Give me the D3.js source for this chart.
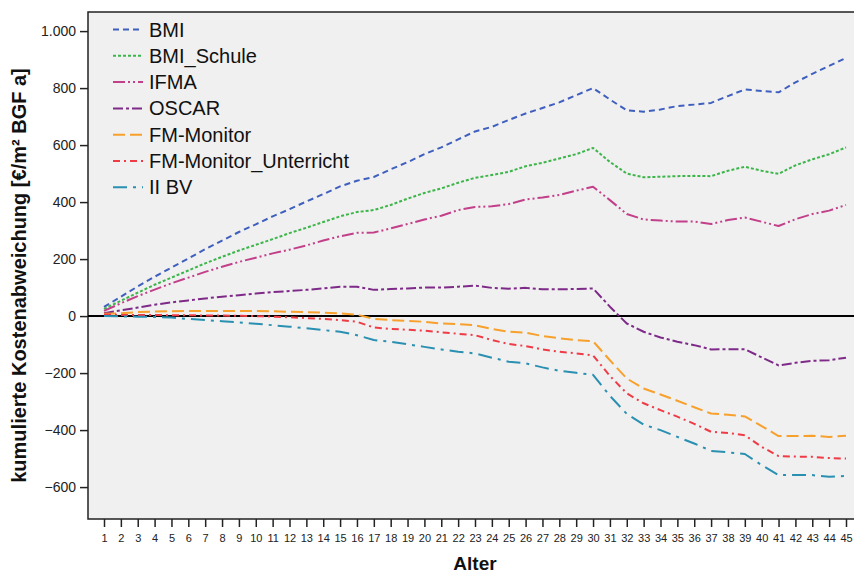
<!DOCTYPE html>
<html>
<head>
<meta charset="utf-8">
<script src="https://cdn.jsdelivr.net/npm/d3@7"></script>
<style>
  body { margin: 0; background: #fff; }
  svg { display: block; font-family: 'Liberation Sans', Arial, sans-serif; }
</style>
</head>
<body>
<svg id="chart" width="854" height="576"></svg>
<script>
const ages = d3.range(1, 46);
const yTicks = [-600, -400, -200, 0, 200, 400, 600, 800, 1000];

const bmi = [32, 68, 104, 138, 170, 202, 235, 265, 295, 322, 350, 375, 402, 428, 455, 475, 488, 515, 540, 568, 592, 620, 648, 664, 688, 711, 730, 750, 775, 800, 760, 722, 717, 725, 737, 742, 748, 772, 795, 790, 785, 820, 850, 878, 906];
const bmiSchule = [25, 54, 82, 110, 135, 160, 185, 208, 230, 250, 270, 291, 310, 330, 350, 365, 372, 390, 412, 432, 448, 468, 485, 495, 506, 526, 538, 553, 568, 590, 541, 500, 487, 489, 491, 492, 491, 510, 524, 510, 499, 529, 550, 568, 592];
const ifma = [18, 45, 70, 93, 115, 135, 155, 173, 190, 205, 220, 233, 248, 265, 280, 292, 293, 308, 323, 339, 352, 372, 383, 385, 393, 409, 416, 425, 440, 454, 407, 358, 339, 335, 332, 332, 323, 337, 346, 331, 316, 340, 358, 370, 390];
const oscar = [10, 20, 30, 40, 48, 55, 62, 68, 73, 79, 84, 88, 92, 97, 103, 103, 92, 95, 97, 100, 100, 103, 107, 99, 96, 99, 94, 94, 95, 97, 33, -26, -55, -75, -90, -102, -117, -116, -116, -145, -173, -164, -157, -155, -146];
const fmMonitor = [8, 10, 14, 16, 17, 18, 18, 18, 18, 18, 17, 15, 14, 12, 10, 5, -10, -14, -17, -20, -26, -28, -32, -45, -55, -58, -70, -78, -84, -88, -155, -219, -254, -275, -297, -320, -342, -346, -352, -386, -421, -421, -420, -424, -420];
const fmUnterricht = [6, 4, 4, 4, 3, 3, 2, 2, 1, 0, -2, -4, -7, -10, -14, -20, -40, -45, -48, -51, -57, -62, -67, -84, -98, -105, -117, -125, -131, -138, -210, -271, -306, -330, -353, -378, -406, -410, -418, -459, -491, -493, -494, -498, -500];
const iiBV = [0, -1, -2, -3, -5, -10, -14, -18, -22, -27, -32, -37, -43, -49, -55, -67, -84, -90, -99, -108, -117, -125, -131, -146, -160, -166, -180, -192, -199, -206, -280, -343, -381, -400, -424, -447, -473, -478, -484, -523, -558, -558, -558, -564, -561];

const series = [
  { name: 'BMI', values: bmi, color: '#3f5fbf', dash: '6,4' },
  { name: 'BMI_Schule', values: bmiSchule, color: '#3cb54a', dash: '3,2' },
  { name: 'IFMA', values: ifma, color: '#c23f8a', dash: '12,3,2,3,2,3' },
  { name: 'OSCAR', values: oscar, color: '#7e2a88', dash: '10,3,3,3' },
  { name: 'FM-Monitor', values: fmMonitor, color: '#f7a02c', dash: '12,5' },
  { name: 'FM-Monitor_Unterricht', values: fmUnterricht, color: '#ef3b46', dash: '7,4,2,4' },
  { name: 'II BV', values: iiBV, color: '#2a90b2', dash: '14,6,3,6' }
];

const svg = d3.select('#chart');
const plotLeft = 88, plotRight = 862, plotTop = 12, plotBottom = 519;

const x = d3.scaleLinear().domain([1, 45]).range([104, 846]);
const y = d3.scaleLinear().domain([-712, 1067]).range([plotBottom, plotTop]);

// plot background + frame
svg.append('rect')
  .attr('x', plotLeft).attr('y', plotTop)
  .attr('width', plotRight - plotLeft).attr('height', plotBottom - plotTop)
  .attr('fill', '#f0f0f0')
  .attr('stroke', '#222')
  .attr('stroke-width', 1.5);

// zero line
svg.append('line')
  .attr('x1', plotLeft).attr('x2', plotRight)
  .attr('y1', y(0)).attr('y2', y(0))
  .attr('stroke', '#000')
  .attr('stroke-width', 2);

// y axis
const yAxis = svg.append('g')
  .attr('transform', `translate(${plotLeft},0)`)
  .call(d3.axisLeft(y).tickValues(yTicks).tickSize(8).tickPadding(4)
    .tickFormat(d => d3.format(',')(d).replace(',', '.')));
yAxis.select('.domain').remove();
yAxis.selectAll('text').attr('font-size', 14).attr('fill', '#222').attr('font-family', null);
yAxis.selectAll('line').attr('stroke', '#222').attr('stroke-width', 1.5);

// x axis
const xAxis = svg.append('g')
  .attr('transform', `translate(0,${plotBottom})`)
  .call(d3.axisBottom(x).tickValues(ages).tickSize(8).tickPadding(7).tickFormat(d3.format('d')));
xAxis.select('.domain').remove();
xAxis.selectAll('text').attr('font-size', 11).attr('fill', '#222').attr('font-family', null);
xAxis.selectAll('line').attr('stroke', '#222').attr('stroke-width', 1.5);

// axis titles
svg.append('text')
  .attr('transform', `translate(26,${(plotTop + plotBottom) / 2 + 10}) rotate(-90)`)
  .attr('text-anchor', 'middle')
  .attr('font-size', 20)
  .attr('font-weight', 'bold')
  .attr('fill', '#111')
  .text('kumulierte Kostenabweichung [€/m² BGF a]');

svg.append('text')
  .attr('x', 475).attr('y', 570)
  .attr('text-anchor', 'middle')
  .attr('font-size', 19)
  .attr('font-weight', 'bold')
  .attr('fill', '#111')
  .text('Alter');

// lines
const line = d3.line()
  .x((d, i) => x(ages[i]))
  .y(d => y(d));

svg.append('g').selectAll('path.series')
  .data(series)
  .enter().append('path')
  .attr('class', 'series')
  .attr('d', d => line(d.values))
  .attr('fill', 'none')
  .attr('stroke', d => d.color)
  .attr('stroke-width', 2)
  .attr('stroke-dasharray', d => d.dash)
  .attr('stroke-linejoin', 'round');

// legend
const legend = svg.append('g').selectAll('g.item')
  .data(series)
  .enter().append('g')
  .attr('class', 'item')
  .attr('transform', (d, i) => `translate(113,${29.5 + i * 26.3})`);

legend.append('line')
  .attr('x1', 0).attr('x2', 30)
  .attr('stroke', d => d.color)
  .attr('stroke-width', 2)
  .attr('stroke-dasharray', d => d.dash);

legend.append('text')
  .attr('x', 36).attr('dy', '0.35em')
  .attr('font-size', 20)
  .attr('fill', '#111')
  .text(d => d.name);
</script>
</body>
</html>
